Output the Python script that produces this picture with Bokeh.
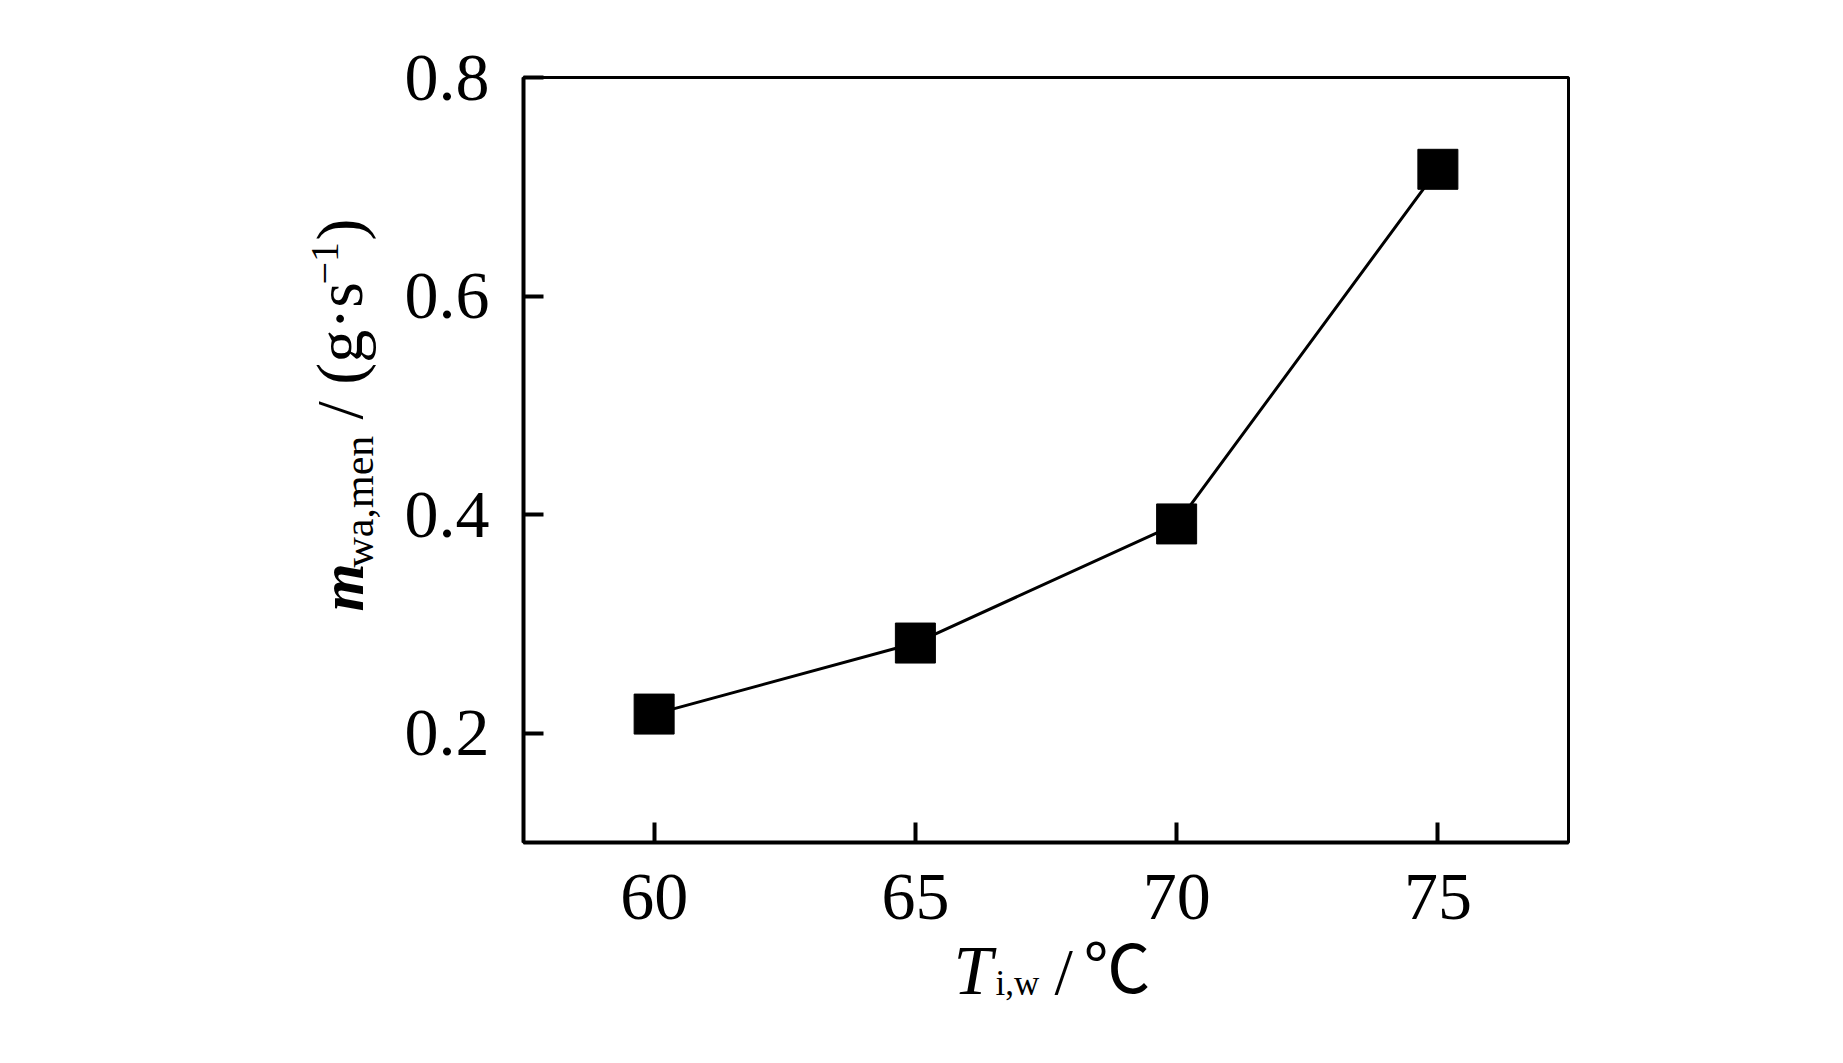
import math
from bokeh.plotting import figure
from bokeh.models import Label, FixedTicker, Range1d
from bokeh.embed import file_html
from bokeh.resources import INLINE

# ---- data ----
temps = [60, 65, 70, 75]                 # T_i,w / ℃
flow = [0.2175, 0.2825, 0.3915, 0.716]   # m_wa,men / (g·s^-1)
x_ticks = [60, 65, 70, 75]
y_ticks = [0.2, 0.4, 0.6, 0.8]

SERIF = "Liberation Serif"
H = 1045

p = figure(width=1827, height=H, output_backend="svg", toolbar_location=None,
           x_range=Range1d(57.5, 77.5), y_range=Range1d(0.1, 0.8),
           min_border_left=523, min_border_right=259, min_border_top=77,
           min_border_bottom=203)
p.background_fill_color = "white"
p.border_fill_color = "white"
p.outline_line_color = "black"
p.outline_line_width = 3
p.grid.visible = False

for ax in (p.xaxis[0], p.yaxis[0]):
    ax.axis_line_width = 4
    ax.axis_line_color = "black"
    ax.major_tick_line_width = 4
    ax.major_tick_line_color = "black"
    ax.major_tick_in = 20
    ax.major_tick_out = 0
    ax.minor_tick_line_color = None
    ax.major_label_text_font = SERIF
    ax.major_label_text_font_size = "68px"
    ax.major_label_text_color = "black"
    ax.axis_label = None

p.xaxis.ticker = FixedTicker(ticks=x_ticks)
p.yaxis.ticker = FixedTicker(ticks=y_ticks)
p.xaxis.major_label_standoff = 32
p.yaxis.major_label_standoff = 34

p.line(temps, flow, line_width=3, line_color="black")
p.scatter(temps, flow, marker="square", size=40, fill_color="black", line_color="black")

def lab(text, x, y, size, side, style="normal", angle=0.0, font=SERIF):
    # canvas units: pixels from the canvas top-left corner
    p.add_layout(Label(text=text, x=x, y=y, x_units="canvas", y_units="canvas",
                       angle=angle, text_font=font, text_font_size=f"{size}px",
                       text_font_style=style, text_color="black",
                       text_align="left", text_baseline="alphabetic"), side)

# x-axis title: T_i,w / ℃
lab("T", 953, 970, 70, "right", "italic")
lab("i,w", 995, 983, 35, "right")
lab("/", 1054, 971, 66, "right")
lab("℃", 1083, 963, 67, "right", font="Noto Sans CJK SC")

# y-axis title: m_wa,men / (g·s^-1)  (rotated, reads upward)
A = math.pi / 2
lab("m", 341, 611, 62, "left", "bold italic", A)
lab("wa,men", 358, 567, 42, "left", "normal", A)
lab("/ (g·s", 339, 419, 66, "left", "normal", A)
lab("−1", 324, 284, 40, "left", "normal", A)
lab(")", 339, 240, 66, "left", "normal", A)

open("out.html", "w").write(file_html(p, INLINE))
